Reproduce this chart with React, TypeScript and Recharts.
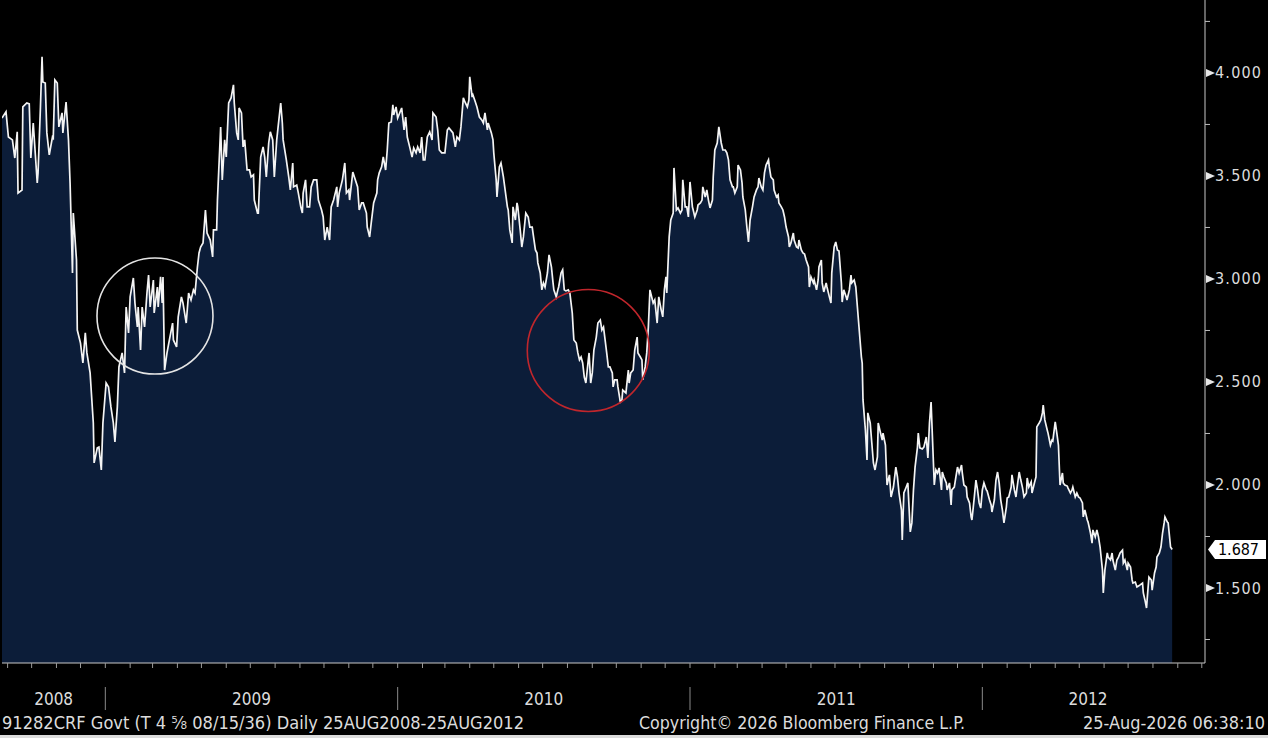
import { Area, AreaChart, ReferenceDot, XAxis, YAxis } from 'recharts';

// x is calendar days since 25 Aug 2008, y is the yield in %
const START = Date.UTC(2008, 7, 25);
const DAY_MS = 86400000;
const X_END = 1502;

const Y2008: [number, number][] = [
  [0, 3.781], [5, 3.811], [8, 3.689], [13, 3.675], [16, 3.587], [19, 3.714], [20, 3.417], [25, 3.432],
  [26, 3.835], [31, 3.854], [34, 3.85], [36, 3.587], [39, 3.757], [44, 3.466], [45, 3.515], [48, 3.835],
  [50, 4.078], [51, 3.956], [54, 3.951], [56, 3.709], [59, 3.602], [63, 3.689], [64, 3.684], [66, 3.966],
  [69, 3.951], [71, 3.738], [75, 3.806], [76, 3.709], [80, 3.859], [83, 3.675], [85, 3.466], [88, 3.029],
  [89, 3.32], [93, 3.092], [94, 2.752], [98, 2.689], [101, 2.592], [104, 2.738], [106, 2.641], [110, 2.544],
  [114, 2.301], [115, 2.107], [119, 2.18], [121, 2.184], [124, 2.073], [126, 2.301],
];

const Y2009: [number, number][] = [
  [130, 2.495], [133, 2.476], [136, 2.379], [139, 2.301], [141, 2.209], [144, 2.379], [146, 2.573], [150, 2.641],
  [153, 2.544], [155, 2.864], [158, 2.738], [160, 2.913], [164, 3.005], [166, 2.883], [169, 2.767], [170, 2.864],
  [173, 2.655], [175, 2.864], [178, 2.767], [181, 2.932], [183, 3.019], [185, 2.864], [189, 2.995], [190, 2.835],
  [194, 2.961], [195, 2.864], [198, 3.01], [200, 2.883], [201, 3.01], [203, 2.558], [206, 2.641], [209, 2.704],
  [213, 2.786], [214, 2.704], [218, 2.67], [220, 2.816], [224, 2.913], [226, 2.883], [230, 2.786], [233, 2.932],
  [236, 2.898], [239, 2.947], [241, 2.932], [244, 3.058], [246, 3.126], [248, 3.155], [251, 3.175], [254, 3.335],
  [256, 3.223], [260, 3.189], [263, 3.107], [264, 3.238], [268, 3.238], [269, 3.383], [273, 3.738], [275, 3.481],
  [278, 3.675], [280, 3.592], [283, 3.854], [286, 3.879], [289, 3.942], [290, 3.854], [293, 3.709], [295, 3.675],
  [296, 3.83], [299, 3.806], [301, 3.641], [303, 3.675], [306, 3.529], [309, 3.529], [311, 3.495], [314, 3.505],
  [315, 3.383], [319, 3.32], [320, 3.32], [323, 3.592], [326, 3.641], [328, 3.592], [330, 3.495], [333, 3.66],
  [335, 3.714], [338, 3.675], [340, 3.495], [343, 3.675], [345, 3.748], [348, 3.854], [350, 3.757], [351, 3.675],
  [355, 3.578], [358, 3.495], [360, 3.432], [363, 3.563], [364, 3.447], [368, 3.456], [370, 3.417], [373, 3.35],
  [375, 3.32], [376, 3.417], [379, 3.481], [381, 3.35], [384, 3.35], [386, 3.447], [389, 3.481], [393, 3.481],
  [395, 3.383], [399, 3.335], [401, 3.301], [403, 3.189], [406, 3.252], [409, 3.189], [411, 3.35], [414, 3.383],
  [418, 3.447], [419, 3.35], [421, 3.417], [425, 3.481], [428, 3.563], [430, 3.417], [433, 3.432], [434, 3.383],
  [438, 3.519], [440, 3.495], [444, 3.447], [446, 3.335], [449, 3.369], [451, 3.369], [455, 3.32], [456, 3.252],
  [459, 3.204], [461, 3.272], [464, 3.369], [468, 3.417], [469, 3.481], [471, 3.515], [474, 3.544], [476, 3.592],
  [479, 3.529], [481, 3.626], [483, 3.757], [486, 3.762], [488, 3.845], [489, 3.796], [492, 3.835],
];

const Y2010: [number, number][] = [
  [494, 3.781], [499, 3.83], [502, 3.723], [504, 3.786], [506, 3.689], [509, 3.641], [512, 3.592], [514, 3.636],
  [517, 3.612], [519, 3.641], [522, 3.612], [524, 3.689], [526, 3.578], [528, 3.578], [531, 3.689], [534, 3.714],
  [537, 3.675], [538, 3.806], [542, 3.786], [544, 3.723], [546, 3.626], [549, 3.612], [553, 3.612], [556, 3.723],
  [558, 3.733], [562, 3.714], [563, 3.709], [566, 3.641], [568, 3.689], [571, 3.675], [573, 3.738], [576, 3.879],
  [578, 3.859], [581, 3.835], [583, 3.869], [584, 3.981], [587, 3.883], [588, 3.893], [591, 3.859], [593, 3.835],
  [596, 3.786], [599, 3.772], [601, 3.757], [603, 3.806], [606, 3.723], [607, 3.757], [611, 3.709], [613, 3.675],
  [614, 3.612], [617, 3.481], [618, 3.398], [621, 3.544], [623, 3.563], [626, 3.495], [627, 3.466], [631, 3.35],
  [632, 3.335], [634, 3.238], [637, 3.175], [638, 3.35], [641, 3.286], [643, 3.369], [644, 3.35], [647, 3.238],
  [649, 3.155], [651, 3.204], [654, 3.32], [657, 3.301], [659, 3.252], [662, 3.252], [663, 3.223], [666, 3.141],
  [668, 3.126], [669, 3.078], [672, 3.029], [674, 2.947], [676, 2.981], [678, 2.961], [681, 3.029], [683, 3.117],
  [686, 3.058], [688, 2.981], [689, 2.947], [692, 2.913], [694, 2.947], [695, 2.961], [698, 3.029], [700, 3.044],
  [702, 2.947], [704, 2.942], [707, 2.947], [709, 2.932], [712, 2.835], [713, 2.767], [714, 2.704], [717, 2.689],
  [719, 2.641], [721, 2.607], [723, 2.621], [725, 2.592], [727, 2.524], [729, 2.495], [732, 2.607], [733, 2.641],
  [735, 2.495], [737, 2.544], [739, 2.655], [742, 2.718], [744, 2.786], [747, 2.801], [749, 2.752], [751, 2.767],
  [753, 2.704], [755, 2.641], [757, 2.573], [759, 2.573], [762, 2.544], [763, 2.476], [765, 2.51], [768, 2.51],
  [769, 2.476], [772, 2.403], [774, 2.413], [775, 2.461], [779, 2.447], [782, 2.558], [783, 2.495], [785, 2.544],
  [788, 2.558], [790, 2.655], [793, 2.718], [794, 2.641], [797, 2.621], [799, 2.607], [800, 2.51], [803, 2.573],
  [805, 2.641], [807, 2.767], [809, 2.947], [813, 2.883], [815, 2.898], [818, 2.786], [820, 2.913], [823, 2.85],
  [825, 2.816], [827, 2.947], [829, 3.01], [830, 2.932], [833, 3.204], [835, 3.286], [838, 3.32], [839, 3.539],
  [842, 3.335], [844, 3.345], [847, 3.32], [849, 3.335], [850, 3.481], [853, 3.35], [855, 3.35], [857, 3.301],
];

const Y2011: [number, number][] = [
  [859, 3.471], [862, 3.35], [863, 3.335], [865, 3.301], [868, 3.335], [869, 3.359], [872, 3.369], [874, 3.383],
  [875, 3.447], [878, 3.398], [880, 3.432], [882, 3.383], [884, 3.345], [887, 3.383], [888, 3.495], [890, 3.626],
  [893, 3.66], [895, 3.738], [898, 3.66], [900, 3.626], [903, 3.626], [905, 3.612], [907, 3.578], [909, 3.481],
  [912, 3.447], [913, 3.447], [915, 3.417], [918, 3.447], [919, 3.553], [922, 3.529], [924, 3.466], [925, 3.398],
  [928, 3.335], [930, 3.252], [932, 3.18], [934, 3.286], [937, 3.35], [939, 3.398], [942, 3.432], [944, 3.447],
  [945, 3.49], [948, 3.447], [950, 3.432], [952, 3.515], [954, 3.553], [957, 3.578], [958, 3.544], [960, 3.495],
  [963, 3.481], [964, 3.432], [967, 3.398], [969, 3.408], [970, 3.369], [973, 3.35], [975, 3.335], [977, 3.301],
  [979, 3.252], [982, 3.204], [983, 3.155], [985, 3.175], [988, 3.223], [989, 3.189], [992, 3.155], [994, 3.15],
  [995, 3.189], [998, 3.141], [1000, 3.126], [1002, 3.121], [1004, 3.092], [1007, 3.058], [1008, 2.961], [1010, 3.01],
  [1013, 2.981], [1014, 2.995], [1017, 2.947], [1019, 2.995], [1020, 3.058], [1023, 3.092], [1024, 2.981], [1026, 2.937],
  [1029, 2.981], [1030, 2.961], [1033, 2.913], [1035, 2.883], [1036, 3.029], [1039, 3.155], [1041, 3.18], [1043, 3.141],
  [1045, 3.136], [1048, 2.981], [1049, 2.888], [1051, 2.947], [1054, 2.913], [1055, 2.898], [1058, 2.947], [1060, 3.019],
  [1061, 2.981], [1064, 2.995], [1066, 2.961], [1068, 2.864], [1070, 2.767], [1073, 2.621], [1074, 2.592], [1075, 2.413],
  [1078, 2.267], [1080, 2.121], [1081, 2.35], [1084, 2.301], [1086, 2.204], [1088, 2.107], [1090, 2.073], [1093, 2.136],
  [1094, 2.301], [1096, 2.267], [1099, 2.218], [1100, 2.252], [1103, 2.194], [1105, 2.0], [1108, 2.049], [1110, 1.942],
  [1113, 1.99], [1116, 2.087], [1118, 2.039], [1120, 1.961], [1123, 1.879], [1124, 1.733], [1126, 1.961], [1129, 1.99],
  [1131, 2.01], [1134, 1.772], [1136, 1.816], [1138, 1.976], [1140, 2.087], [1143, 2.184], [1144, 2.252], [1146, 2.18],
  [1149, 2.175], [1151, 2.184], [1154, 2.233], [1156, 2.131], [1158, 2.301], [1160, 2.403], [1161, 2.301], [1164, 2.0],
  [1166, 2.073], [1168, 2.058], [1170, 2.083], [1173, 1.976], [1174, 2.063], [1176, 2.039], [1179, 2.01], [1180, 1.976],
  [1183, 2.01], [1185, 1.903], [1186, 1.976], [1189, 1.99], [1191, 2.039], [1193, 2.087], [1195, 2.058], [1198, 2.097],
  [1199, 2.058], [1201, 2.0], [1204, 1.99], [1205, 1.942], [1208, 1.913], [1210, 1.845], [1211, 1.83], [1214, 1.942],
  [1216, 2.024], [1218, 1.976], [1220, 1.913], [1222, 1.888],
];

const Y2012: [number, number][] = [
  [1224, 1.976], [1226, 2.01], [1229, 1.976], [1230, 1.971], [1233, 1.927], [1235, 1.903], [1236, 1.869], [1239, 1.927],
  [1241, 2.024], [1243, 2.063], [1245, 2.01], [1247, 1.927], [1249, 1.879], [1251, 1.816], [1254, 1.893], [1255, 1.937],
  [1257, 1.942], [1260, 1.99], [1261, 2.049], [1264, 1.976], [1266, 1.942], [1267, 1.976], [1270, 2.063], [1272, 2.024],
  [1274, 1.99], [1276, 1.942], [1279, 1.961], [1280, 2.034], [1282, 1.99], [1285, 2.015], [1286, 1.961], [1289, 2.01],
  [1291, 2.039], [1292, 2.282], [1295, 2.301], [1297, 2.316], [1299, 2.35], [1300, 2.388], [1302, 2.316], [1305, 2.267],
  [1306, 2.252], [1309, 2.194], [1311, 2.218], [1312, 2.214], [1315, 2.306], [1317, 2.252], [1319, 2.194], [1321, 2.0],
  [1324, 2.058], [1325, 2.01], [1327, 2.0], [1330, 1.995], [1331, 1.985], [1334, 1.961], [1336, 1.976], [1337, 1.99],
  [1340, 1.942], [1342, 1.961], [1344, 1.942], [1346, 1.937], [1349, 1.913], [1350, 1.845], [1352, 1.879], [1355, 1.83],
  [1356, 1.82], [1359, 1.767], [1361, 1.718], [1362, 1.782], [1365, 1.748], [1367, 1.782], [1369, 1.748], [1371, 1.699],
  [1374, 1.587], [1375, 1.476], [1377, 1.587], [1380, 1.67], [1381, 1.65], [1384, 1.636], [1386, 1.67], [1387, 1.636],
  [1390, 1.587], [1392, 1.636], [1394, 1.65], [1396, 1.67], [1399, 1.684], [1400, 1.621], [1402, 1.636], [1405, 1.587],
  [1406, 1.621], [1409, 1.602], [1411, 1.539], [1412, 1.524], [1415, 1.529], [1417, 1.505], [1419, 1.51], [1421, 1.515],
  [1424, 1.524], [1425, 1.476], [1427, 1.442], [1429, 1.403], [1430, 1.456], [1432, 1.553], [1435, 1.539], [1436, 1.49],
  [1439, 1.573], [1441, 1.602], [1442, 1.65], [1445, 1.67], [1447, 1.699], [1449, 1.767], [1451, 1.816], [1452, 1.845],
  [1455, 1.82], [1456, 1.816], [1459, 1.699], [1461, 1.687],
];

const LAST_VALUE = 1.687;
const MAJOR_TICKS = [1.5, 2, 2.5, 3, 3.5, 4];
const MINOR_TICKS = [1.25, 1.75, 2.25, 2.75, 3.25, 3.75, 4.25];
const Y_DOMAIN: [number, number] = [1.136, 4.354];
const YEARS = [2008, 2009, 2010, 2011, 2012];

// the two hand-drawn circles: [day, yield, radius in px]
const WHITE_RING: [number, number, number] = [191, 2.82, 58];
const RED_RING: [number, number, number] = [732, 2.653, 61];

const TITLE = '91282CRF Govt (T 4 \u215D 08/15/36) Daily 25AUG2008-25AUG2012';
const COPYRIGHT = 'Copyright\u00A9 2026 Bloomberg Finance L.P.';
const STAMP = '25-Aug-2026 06:38:10';

const FONT = "'DejaVu Sans Condensed', 'DejaVu Sans', sans-serif";
const NAVY = '#0c1d39';
const TEXT = '#dcdcdc';

const DATA = [...Y2008, ...Y2009, ...Y2010, ...Y2011, ...Y2012].map(([d, v]) => ({ d, v }));

const dayOf = (y: number, m: number) => Math.round((Date.UTC(y, m, 1) - START) / DAY_MS);

const MONTH_TICKS: number[] = [];
for (let i = 0; ; i++) {
  const d = dayOf(2008, 8 + i);
  if (d > X_END) break;
  MONTH_TICKS.push(d);
}
const YEAR_STARTS = YEARS.slice(1).map((y) => dayOf(y, 0));
const bounds = [0, ...YEAR_STARTS, 1488];
const YEAR_MIDS = YEARS.map((_, i) => (bounds[i] + bounds[i + 1]) / 2);
const X_TICKS = [...MONTH_TICKS, ...YEAR_MIDS];

function XTick({ x, y, payload }: any) {
  const v = payload.value;
  const yi = YEAR_MIDS.indexOf(v);
  if (yi >= 0) {
    return (
      <text x={x} y={y + 36} textAnchor="middle" dominantBaseline="central" fill={TEXT} fontFamily={FONT} fontSize={17}>
        {YEARS[yi]}
      </text>
    );
  }
  return (
    <g>
      <line x1={x} x2={x} y1={y} y2={y + 5} stroke="#9a9a9a" />
      {YEAR_STARTS.includes(v) && <line x1={x} x2={x} y1={y + 24} y2={y + 47} stroke="#8a8a8a" />}
    </g>
  );
}

function YTick({ x, y, payload }: any) {
  const v = payload.value;
  if (v === LAST_VALUE) {
    return (
      <g>
        <polygon
          points={`${x + 3},${y} ${x + 10},${y - 9.5} ${x + 61},${y - 9.5} ${x + 61},${y + 9.5} ${x + 10},${y + 9.5}`}
          fill="#fff"
        />
        <text x={x + 13} y={y} dominantBaseline="central" fill="#000" fontFamily={FONT} fontSize={16} textLength={41}>
          {v.toFixed(3)}
        </text>
      </g>
    );
  }
  if (MAJOR_TICKS.includes(v)) {
    return (
      <g>
        <polygon points={`${x + 1},${y - 4} ${x + 1},${y + 4} ${x + 10},${y}`} fill="#e6e6e6" />
        <text x={x + 10} y={y} dominantBaseline="central" fill={TEXT} fontFamily={FONT} fontSize={16} textLength={46}>
          {v.toFixed(3)}
        </text>
      </g>
    );
  }
  return <line x1={x} x2={x + 5} y1={y} y2={y} stroke="#bdbdbd" />;
}

export default function App() {
  return (
    <div style={{ width: 1268, height: 738, background: '#000', position: 'relative', overflow: 'hidden' }}>
      <style>{'body{margin:0;background:#000}'}</style>
      <AreaChart width={1268} height={712} data={DATA} margin={{ top: 0, right: 0, bottom: 0, left: 2 }}>
        <XAxis
          dataKey="d"
          type="number"
          domain={[0, X_END]}
          allowDataOverflow
          ticks={X_TICKS}
          interval={0}
          tickSize={0}
          tickMargin={0}
          tickLine={false}
          axisLine={{ stroke: '#c8c8c8' }}
          height={49}
          tick={(p: any) => <XTick {...p} />}
        />
        <YAxis
          orientation="right"
          type="number"
          domain={Y_DOMAIN}
          allowDataOverflow
          ticks={[...MINOR_TICKS, ...MAJOR_TICKS, LAST_VALUE]}
          interval={0}
          tickSize={0}
          tickMargin={0}
          tickLine={false}
          axisLine={{ stroke: '#c8c8c8' }}
          width={63}
          tick={(p: any) => <YTick {...p} />}
        />
        <Area
          type="linear"
          dataKey="v"
          stroke="#f4f4f4"
          strokeWidth={1.7}
          fill={NAVY}
          fillOpacity={1}
          dot={false}
          activeDot={false}
          isAnimationActive={false}
        />
        <ReferenceDot
          x={WHITE_RING[0]}
          y={WHITE_RING[1]}
          r={WHITE_RING[2]}
          fill="none"
          fillOpacity={0}
          stroke="#e4e4e4"
          strokeWidth={1.6}
        />
        <ReferenceDot
          x={RED_RING[0]}
          y={RED_RING[1]}
          r={RED_RING[2]}
          fill="none"
          fillOpacity={0}
          stroke="#c0262c"
          strokeWidth={1.6}
        />
      </AreaChart>
      <svg width={1268} height={23} style={{ display: 'block' }}>
        <g fill={TEXT} fontFamily={FONT} fontSize={17}>
          <text x={2} y={11} dominantBaseline="central" textLength={522} lengthAdjust="spacingAndGlyphs">
            {TITLE}
          </text>
          <text x={639} y={11} dominantBaseline="central" textLength={326} lengthAdjust="spacingAndGlyphs">
            {COPYRIGHT}
          </text>
          <text x={1083} y={11} dominantBaseline="central" textLength={182} lengthAdjust="spacingAndGlyphs">
            {STAMP}
          </text>
        </g>
      </svg>
      <div style={{ height: 3, background: '#dcdcdc' }} />
    </div>
  );
}
